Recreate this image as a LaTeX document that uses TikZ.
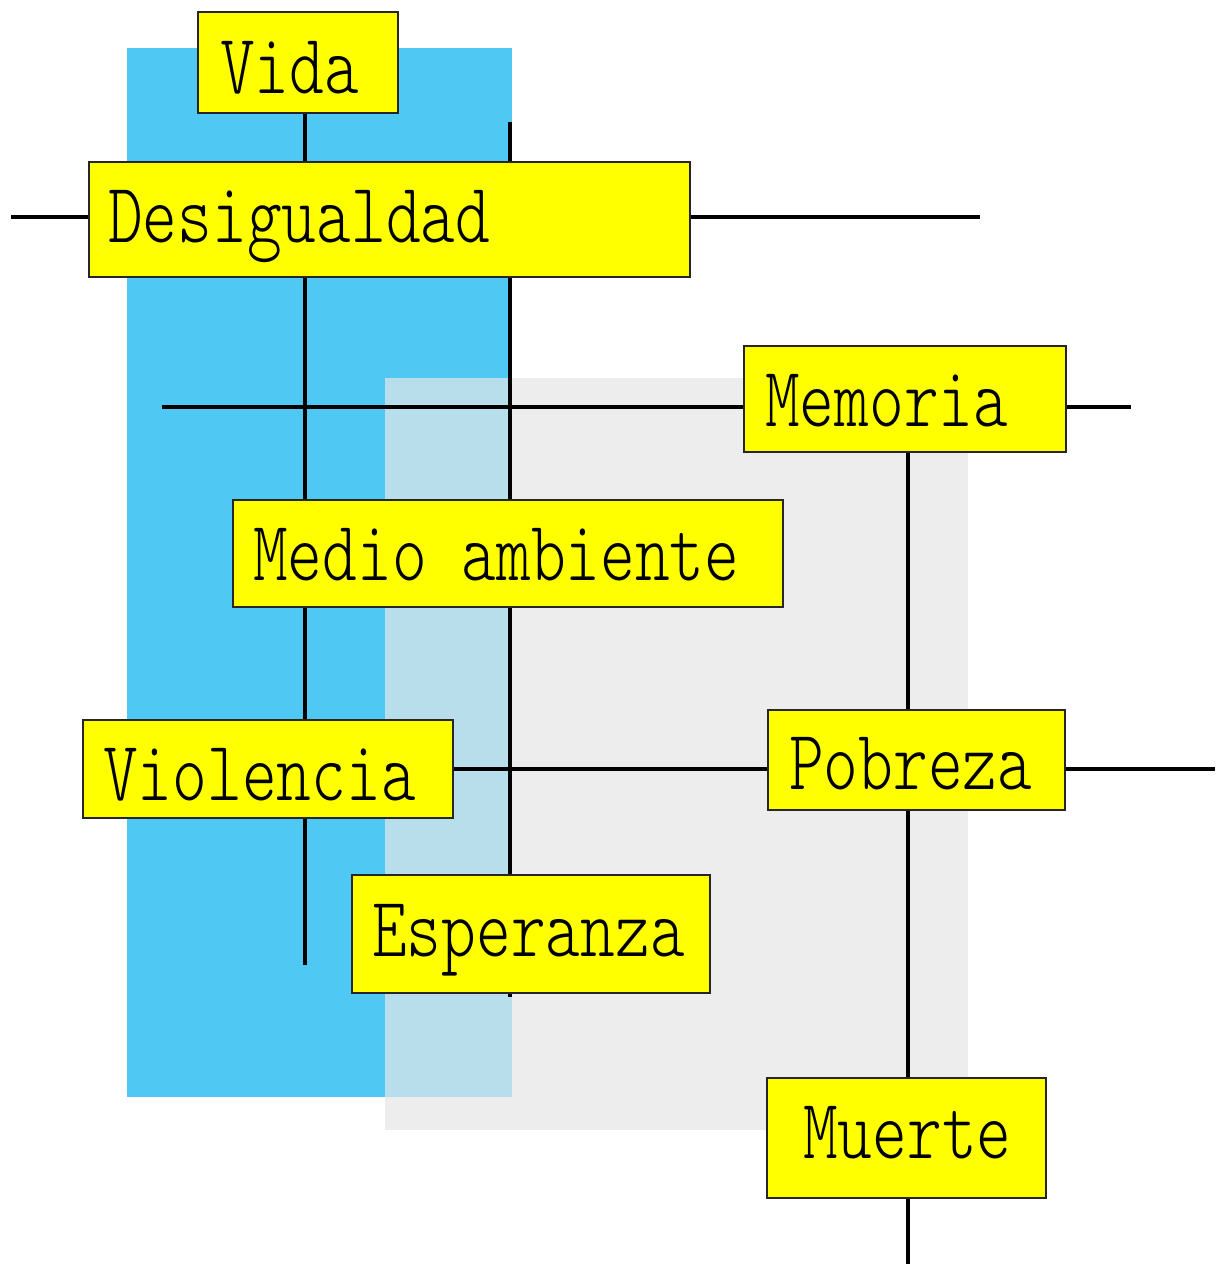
\documentclass[tikz,border=0pt]{standalone}
\usepackage{fontspec}
\usetikzlibrary{fit}
\newfontfamily\lblfont[FakeStretch=0.775]{Latin Modern Mono Light}
\definecolor{skyblue}{RGB}{79,200,244}
\definecolor{lightgray}{RGB}{237,237,237}
\definecolor{overlapblue}{RGB}{184,221,235}
\definecolor{boxyellow}{RGB}{255,255,0}
\pgfdeclarelayer{bg}
\pgfdeclarelayer{lines}
\pgfsetlayers{bg,lines,main}
\tikzset{
  ybox/.style={draw=black!85, line width=0.8pt, fill=boxyellow, inner sep=0pt},
  lbl/.style={anchor=base west, inner sep=0pt, font=\lblfont\fontsize{64}{68}\selectfont},
  conn/.style={line width=2.4pt, black},
}
\begin{document}
\begin{tikzpicture}[x=0.75pt,y=-0.75pt]
\useasboundingbox (0,0) rectangle (1217,1264);
% boxes
\node[ybox, fit={(198,12)(398,113)}] (vida) {};
\node[ybox, fit={(89,162)(690,277)}] (desig) {};
\node[ybox, fit={(744,346)(1066,452)}] (memoria) {};
\node[ybox, fit={(233,500)(783,607)}] (medio) {};
\node[ybox, fit={(83,720)(453,818)}] (violencia) {};
\node[ybox, fit={(768,710)(1065,810)}] (pobreza) {};
\node[ybox, fit={(352,875)(710,993)}] (esperanza) {};
\node[ybox, fit={(767,1078)(1046,1198)}] (muerte) {};
% labels
\node[lbl] (tvida) at (220,93) {Vida};
\node[lbl] (tdesig) at (108,242) {Desigualdad};
\node[lbl] (tmemoria) at (765,426) {Memoria};
\node[lbl] (tmedio) at (253,580) {Medio ambiente};
\node[lbl] (tviolencia) at (103,800) {Violencia};
\node[lbl] (tpobreza) at (789,789) {Pobreza};
\node[lbl] (tesperanza) at (372,956) {Esperanza};
\node[lbl] (tmuerte) at (803,1158) {Muerte};
% coordinates
\coordinate (v1end) at (305,965);
\coordinate (v2top) at (510,122);
\coordinate (v2bot) at (510,997);
\coordinate (h1l) at (11,217);
\coordinate (h1r) at (980,217);
\coordinate (h2l) at (162,407);
\coordinate (h2r) at (1131,407);
\coordinate (v3end) at (908,1264);
\coordinate (h3r) at (1215,769);
\begin{pgfonlayer}{bg}
\fill[skyblue] (127,48) rectangle (512,1097);
\fill[lightgray] (385,378) rectangle (968,1130);
\fill[overlapblue] (385,378) rectangle (512,1097);
\end{pgfonlayer}
\begin{pgfonlayer}{lines}
\draw[conn] (vida.south -| v1end) -- (v1end);
\draw[conn] (v2top) -- (v2bot);
\draw[conn] (h1l) -- (h1r);
\draw[conn] (h2l) -- (h2r);
\draw[conn] (memoria.south -| v3end) -- (v3end);
\draw[conn] (violencia.east |- h3r) -- (h3r);
\end{pgfonlayer}
\end{tikzpicture}
\end{document}
